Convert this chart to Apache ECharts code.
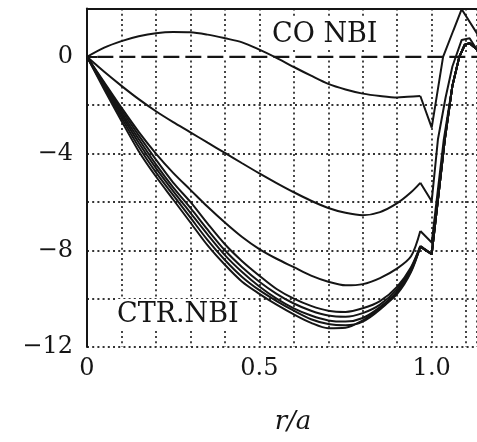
<!DOCTYPE html>
<html>
<head>
<meta charset="utf-8">
<script src="https://cdn.jsdelivr.net/npm/echarts@6/dist/echarts.min.js"></script>
<style>html,body{margin:0;padding:0;background:#fff;}#c{width:477px;height:442px;}</style>
</head>
<body>
<div id="c"></div>
<script>
// ---- data (r/a positions and curve values) ----
const rGrid = [0,0.05,0.1,0.15,0.2,0.25,0.3,0.35,0.4,0.45,0.5,0.55,0.6,0.65,0.7,0.75,0.8,0.85,0.9,0.94,0.967,1.0];

// CO NBI curves
const rCo1 = [0,0.05,0.1,0.15,0.2,0.25,0.3,0.35,0.4,0.45,0.5,0.544,0.6,0.65,0.7,0.75,0.8,0.85,0.9,0.93,0.967,1.0,1.033,1.063,1.087,1.13,1.16];
const vCo1 = [0,0.38,0.65,0.85,0.98,1.03,1.02,0.92,0.77,0.6,0.3,0,-0.42,-0.78,-1.12,-1.35,-1.52,-1.62,-1.68,-1.65,-1.62,-2.93,0,1.1,1.97,1.0,0.3];

const vCo2 = [0,-0.62,-1.2,-1.75,-2.25,-2.7,-3.12,-3.55,-3.97,-4.4,-4.82,-5.22,-5.6,-5.95,-6.25,-6.45,-6.55,-6.42,-6.05,-5.6,-5.21,-5.97];
const rCo2Tail = [1.018,1.04,1.06,1.087,1.11,1.14];
const vCo2Tail = [-3.42,-1.7,-0.4,0.7,0.77,0.1];

const vMid = [0,-1.05,-2.1,-3.1,-4.0,-4.8,-5.5,-6.2,-6.85,-7.45,-7.95,-8.35,-8.7,-9.05,-9.3,-9.45,-9.4,-9.15,-8.75,-8.25,-7.2,-7.68];
const rMidTail = [1.035,1.06,1.08,1.096,1.11,1.14];
const vMidTail = [-3.42,-1.2,0,0.5,0.56,0.2];

// CTR NBI bundle
const vCtr1 = [0,-1.1,-2.2,-3.25,-4.25,-5.2,-6.0,-6.9,-7.75,-8.45,-9.05,-9.6,-10.0,-10.3,-10.5,-10.55,-10.4,-10.1,-9.5,-8.7,-7.82,-8.16];
const vCtr2 = [0,-1.15,-2.3,-3.4,-4.45,-5.4,-6.25,-7.15,-8.0,-8.7,-9.3,-9.8,-10.2,-10.5,-10.7,-10.75,-10.6,-10.25,-9.6,-8.75,-7.85,-8.16];
const vCtr3 = [0,-1.2,-2.4,-3.55,-4.6,-5.55,-6.45,-7.35,-8.2,-8.9,-9.5,-10.0,-10.4,-10.7,-10.9,-10.95,-10.8,-10.35,-9.7,-8.8,-7.85,-8.16];
const vCtr4 = [0,-1.27,-2.52,-3.72,-4.78,-5.72,-6.65,-7.58,-8.4,-9.1,-9.65,-10.1,-10.5,-10.85,-11.05,-11.1,-10.95,-10.45,-9.75,-8.85,-7.85,-8.16];
const vCtr5 = [0,-1.35,-2.65,-3.9,-4.95,-5.9,-6.85,-7.8,-8.6,-9.3,-9.8,-10.25,-10.65,-11.0,-11.22,-11.2,-10.9,-10.4,-9.8,-8.9,-7.85,-8.16];
const rCtrTail = [1.038,1.06,1.08,1.096,1.11,1.14];
const vCtrTail = [-3.42,-1.2,0,0.5,0.56,0.2];

// dashed zero reference line
const rZero = [0.03, 1.1314];
const vZero = [0, 0];

const xTickLabels = ['0','0.5','1.0'];
const yTickLabels = ['0','\u22124','\u22128','\u221212'];
const annotations = ['CO NBI','CTR.NBI'];
const xAxisTitle = 'r/a';

// ---- build ----
const INK = '#151515';
const FONT = 'DejaVu Serif';
function zip(xs, ys){ return xs.map((x,i)=>[x, ys[i]]); }

// split a curve into a smooth body (up to r=0.967) and a sharp tail
function curveSeries(xs, ys){
  const pts = zip(xs, ys);
  const k = xs.indexOf(0.967);
  const body = pts.slice(0, k+1);
  const tail = pts.slice(k);
  const base = {type:'line', showSymbol:false, silent:true, animation:false,
    lineStyle:{color:INK, width:2}, z:4};
  return [
    Object.assign({}, base, {data: body, smooth: 0.3}),
    Object.assign({}, base, {data: tail, smooth: false})
  ];
}

const series = [];
// white backing under the dashed zero line so the gaps stay clean
series.push({type:'line', data: zip(rZero, vZero), showSymbol:false, silent:true, animation:false,
  lineStyle:{color:'#ffffff', width:3.5}, z:2});
series.push({type:'line', data: zip(rZero, vZero), showSymbol:false, silent:true, animation:false,
  lineStyle:{color:INK, width:2.4, type:[16,6]}, z:3});
series.push(...curveSeries(rCo1, vCo1));
series.push(...curveSeries(rGrid.concat(rCo2Tail), vCo2.concat(vCo2Tail)));
series.push(...curveSeries(rGrid.concat(rMidTail), vMid.concat(vMidTail)));
[vCtr1,vCtr2,vCtr3,vCtr4,vCtr5].forEach(v=>{
  series.push(...curveSeries(rGrid.concat(rCtrTail), v.concat(vCtrTail)));
});

const dotted = {show:true, lineStyle:{color:'#333', width:1.8, type:[2,3.2]}};
const chart = echarts.init(document.getElementById('c'), null, {renderer:'canvas'});
chart.setOption({
  backgroundColor:'#ffffff',
  animation:false,
  grid:{left:87, right:0, top:8.5, bottom:95, show:false},
  xAxis:[{type:'value', min:0, max:1.1314, interval:0.1,
    axisLine:{show:true, lineStyle:{color:INK, width:2}}, axisTick:{show:false},
    splitLine:dotted,
    axisLabel:{color:INK, fontFamily:FONT, fontSize:24, margin:10, showMaxLabel:false,
      formatter:function(v){
        const k = Math.round(v*2);
        if (Math.abs(v*2-k) < 1e-6 && k <= 2) return xTickLabels[k];
        return '';
      }}
  },{type:'value', position:'top', min:0, max:1.1314,
    axisLine:{show:true, lineStyle:{color:INK, width:2}}, axisTick:{show:false},
    axisLabel:{show:false}, splitLine:{show:false}
  }],
  yAxis:{type:'value', min:-12, max:2, interval:2,
    axisLine:{show:true, lineStyle:{color:INK, width:2}}, axisTick:{show:false},
    splitLine:dotted,
    axisLabel:{color:INK, fontFamily:FONT, fontSize:24, margin:14,
      formatter:function(v){
        if (v <= 0 && Math.abs(v % 4) < 1e-6) return yTickLabels[Math.round(-v/4)];
        return '';
      }}
  },
  graphic:[
    {type:'text', left:270, top:19, z:10, silent:true,
      style:{text:annotations[0], fill:INK, font:'27px "DejaVu Serif"', backgroundColor:'#fff', padding:[2,2]}},
    {type:'text', left:115, top:299, z:10, silent:true,
      style:{text:annotations[1], fill:INK, font:'27px "DejaVu Serif"', backgroundColor:'#fff', padding:[2,2]}},
    {type:'text', x:293, y:409, z:10, silent:true,
      style:{text:xAxisTitle, fill:INK, font:'italic 26px "DejaVu Serif"', align:'center', verticalAlign:'top'}}
  ],
  series: series
});
</script>
</body>
</html>
